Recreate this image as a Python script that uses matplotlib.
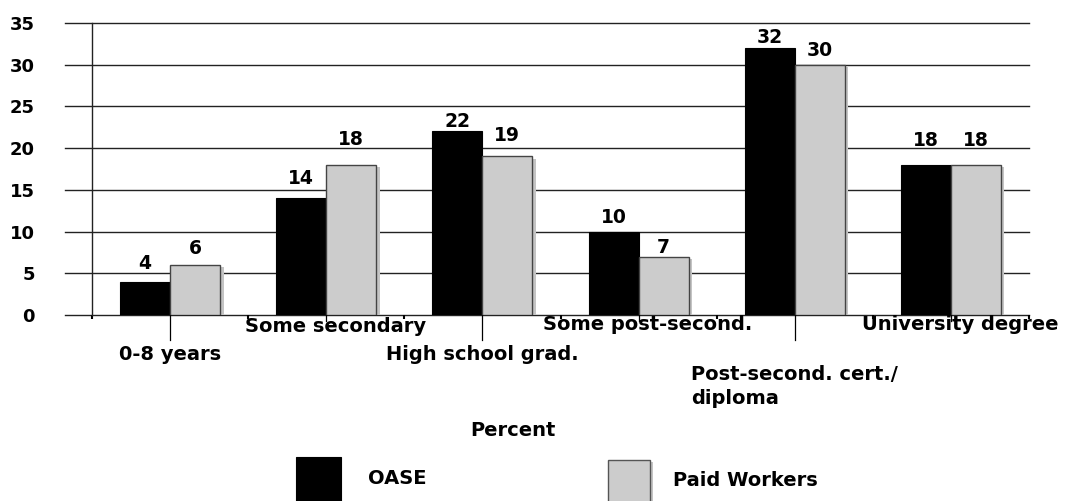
import numpy as np
import matplotlib
matplotlib.use("Agg")
from matplotlib import pyplot as plt
from matplotlib import patheffects as pe
from matplotlib.patches import Rectangle

plt.rcParams['font.family'] = ['DejaVu Sans']
plt.rcParams['font.weight'] = 'bold'

categories = ["0-8 years", "Some secondary", "High school grad.",
              "Some post-second.", "Post-second. cert./\ndiploma", "University degree"]
oase = [4, 14, 22, 10, 32, 18]
paid = [6, 18, 19, 7, 30, 18]
yticks = [0, 5, 10, 15, 20, 25, 30, 35]

# gap (px) between bar top and value label baseline
oase_gap = [13, 14, 4, 9, 5, 19]
paid_gap = [11, 20, 15, 4, 9, 19]
# label rows under the axis (px below the zero line) and tick-line lengths
label_drop = [30, 2, 30, 0, 50, 0]
line_drop = [25, 6, 25, 6, 25, 6]

W, H = 1066, 501
fig = plt.figure(figsize=(W / 100, H / 100), dpi=100)
ax = fig.add_axes([92 / W, 1 - 315 / H, (1029 - 92) / W, (315 - 23) / H])

x = np.arange(len(categories))
bw = 0.32
ax_h = 315 - 23

ax.set_xlim(-0.5, len(categories) - 0.5)
ax.set_ylim(0, 35)

# gridlines, extended a little past the left spine
for yv in yticks:
    ax.axhline(yv, xmin=-27 / 937, xmax=1.0, color='#222222', lw=1.0,
               clip_on=False, zorder=1)

ax.bar(x - bw / 2, oase, width=bw, color='black', edgecolor='black',
       lw=0.8, zorder=3)
ax.bar(x + bw / 2, paid, width=bw, color='#cccccc', edgecolor='#444444',
       lw=1.0, zorder=3,
       path_effects=[pe.SimplePatchShadow(offset=(2.5, -1.5), shadow_rgbFace='#c4c4c4', alpha=1.0),
                     pe.Normal()])

for xi, v, g in zip(x, oase, oase_gap):
    ax.annotate(str(v), (xi - bw / 2, v), xytext=(0, g), textcoords='offset pixels',
                ha='center', va='baseline', fontsize=13.5, fontweight='bold')
for xi, v, g in zip(x, paid, paid_gap):
    ax.annotate(str(v), (xi + bw / 2, v), xytext=(0, g), textcoords='offset pixels',
                ha='center', va='baseline', fontsize=13.5, fontweight='bold')

for side in ['top', 'right', 'bottom']:
    ax.spines[side].set_visible(False)
ax.spines['left'].set_color('#222222')
ax.spines['left'].set_linewidth(1.0)

ax.set_yticks(yticks)
ax.set_yticklabels([str(t) for t in yticks], fontsize=13, fontweight='bold')
ax.tick_params(axis='y', length=0, pad=41)

ax.set_xticks([])
ax.set_xticks(np.arange(len(categories) + 1) - 0.5, minor=True)
ax.tick_params(axis='x', which='minor', length=3, width=1.5, color='black')

tr = ax.get_xaxis_transform()
for xi, lab, dy, ld in zip(x, categories, label_drop, line_drop):
    ax.plot([xi, xi], [0, -ld / ax_h], color='black', lw=0.9,
            transform=tr, clip_on=False, zorder=2)
    ax.text(xi + (0.06 if xi % 2 else 0), -dy / ax_h, lab, transform=tr,
            ha='center', va='top', multialignment='left', fontsize=14,
            fontweight='bold', linespacing=1.35)

fig.text(513 / W, 1 - 430 / H, "Percent", ha='center', va='center',
         fontsize=14, fontweight='bold')

# legend boxes
fig.patches.append(Rectangle((296 / W, 1 - 501 / H), 45 / W, 44 / H,
                             transform=fig.transFigure, facecolor='black',
                             edgecolor='black', lw=0.8))
fig.patches.append(Rectangle((608 / W, 1 - 503 / H), 42 / W, 43 / H,
                             transform=fig.transFigure, facecolor='#cccccc',
                             edgecolor='#555555', lw=1.0,
                             path_effects=[pe.SimplePatchShadow(offset=(2.5, -1.5),
                                                                shadow_rgbFace='#c4c4c4', alpha=1.0),
                                           pe.Normal()]))
fig.text(368 / W, 1 - 478 / H, "OASE", ha='left', va='center',
         fontsize=14, fontweight='bold')
fig.text(673 / W, 1 - 481 / H, "Paid Workers", ha='left', va='center',
         fontsize=14, fontweight='bold')

fig.savefig("out.png", dpi=100)
